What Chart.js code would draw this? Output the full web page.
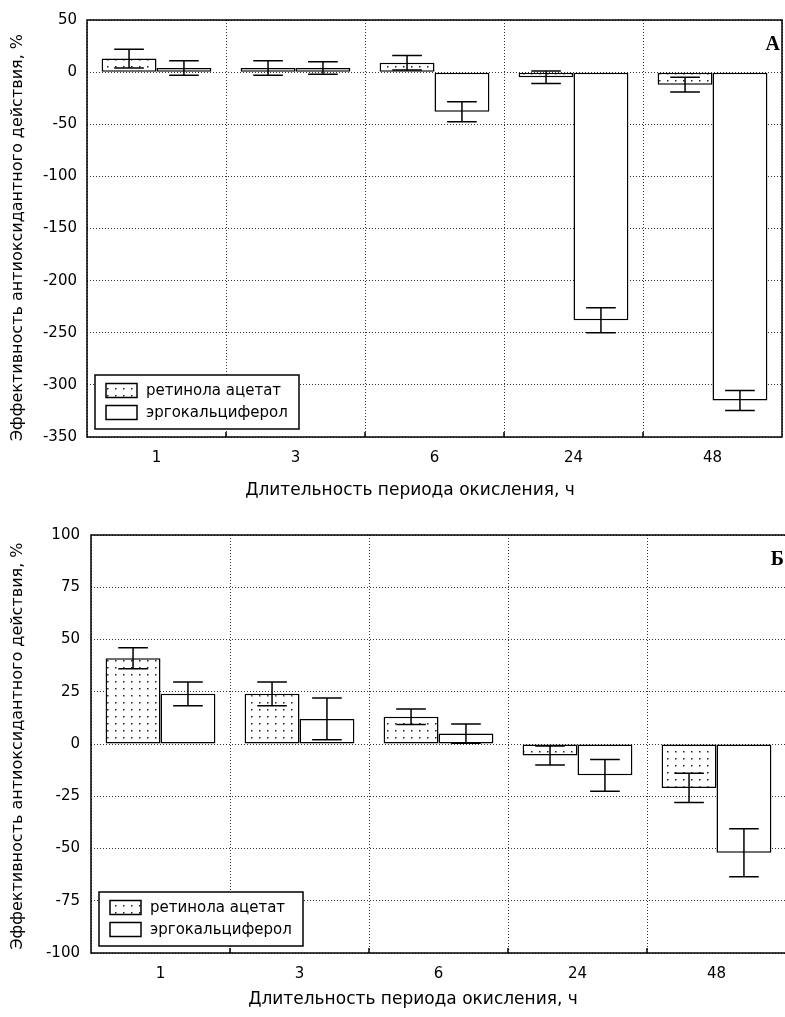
<!DOCTYPE html>
<html>
<head>
<meta charset="utf-8">
<script src="https://cdn.jsdelivr.net/npm/chart.js@4.4.0/dist/chart.umd.min.js"></script>
<style>
  html, body { margin: 0; padding: 0; background: #fff; overflow: hidden; }
  #wrapA { position: absolute; left: 0; top: 0; width: 785px; height: 510px; }
  #wrapB { position: absolute; left: 0; top: 510px; width: 788px; height: 507px; }
</style>
</head>
<body>
<div id="wrapA"><canvas id="chartA" width="785" height="510"></canvas></div>
<div id="wrapB"><canvas id="chartB" width="788" height="507"></canvas></div>
<script>
// категории (часы окисления)
var periods = ["1", "3", "6", "24", "48"];
var seriesNames = ["ретинола ацетат", "эргокальциферол"];

// график А
var retinolA = [13, 4, 9, -5, -12];
var retinolErrA = [9, 7, 7, 6, 7];
var ergoA = [4, 4, -38, -238, -315];
var ergoErrA = [7, 6, 9.5, 12, 9.5];
var ticksA = { min: -350, max: 50, step: 50 };

// график Б
var retinolB = [41, 24, 13, -5.5, -21];
var retinolErrB = [5, 5.7, 3.7, 4.5, 7];
var ergoB = [24, 12, 5, -15, -52];
var ergoErrB = [5.7, 10, 4.6, 7.6, 11.5];
var ticksB = { min: -100, max: 100, step: 25 };

var yTitle = "Эффективность антиоксидантного действия, %";
var xTitle = "Длительность периода окисления, ч";
var fontName = "'DejaVu Sans', sans-serif";

/**
точечная заливка
*/
function dotPattern() {
  var c = document.createElement("canvas");
  c.width = 8;
  c.height = 7;
  var g = c.getContext("2d");
  g.fillStyle = "#fff";
  g.fillRect(0, 0, 8, 7);
  g.fillStyle = "#222";
  g.fillRect(3, 3, 1.5, 1.5);
  return g.createPattern(c, "repeat");
}

var retFill = dotPattern();

// рамка, усы ошибок, подписи осей, легенда и буква
var decorPlugin = {
  id: "decor",
  afterDatasetsDraw: function(chart) {
    var ctx = chart.ctx;
    var yScale = chart.scales.y;
    ctx.save();
    ctx.strokeStyle = "#000";
    ctx.lineWidth = 1.5;
    chart.data.datasets.forEach(function(ds, i) {
      var meta = chart.getDatasetMeta(i);
      meta.data.forEach(function(bar, j) {
        var v = ds.data[j], e = ds.errors[j];
        var y1 = yScale.getPixelForValue(v + e);
        var y2 = yScale.getPixelForValue(v - e);
        var half = bar.width * 0.27;
        ctx.beginPath();
        ctx.moveTo(bar.x, y1); ctx.lineTo(bar.x, y2);
        ctx.moveTo(bar.x - half, y1); ctx.lineTo(bar.x + half, y1);
        ctx.moveTo(bar.x - half, y2); ctx.lineTo(bar.x + half, y2);
        ctx.stroke();
      });
    });
    ctx.restore();
  },
  afterDraw: function(chart) {
    var ctx = chart.ctx;
    var a = chart.chartArea;
    var opts = chart.options.plugins.decor;
    ctx.save();
    // рамка
    ctx.strokeStyle = "#000";
    ctx.lineWidth = 1.5;
    ctx.strokeRect(a.left, a.top, a.right - a.left, a.bottom - a.top);
    // короткие засечки у оси X
    var xs = chart.scales.x;
    for (var k = 1; k < periods.length; k++) {
      var gx = (xs.getPixelForTick(k - 1) + xs.getPixelForTick(k)) / 2;
      ctx.beginPath();
      ctx.moveTo(gx, a.bottom); ctx.lineTo(gx, a.bottom - 5);
      ctx.stroke();
    }
    // подписи осей
    ctx.fillStyle = "#000";
    ctx.textAlign = "center";
    ctx.textBaseline = "middle";
    ctx.font = "17px " + fontName;
    ctx.fillText(xTitle, opts.xTitleX, opts.xTitleY);
    ctx.save();
    ctx.translate(18, (a.top + a.bottom) / 2 + opts.yTitleShift);
    ctx.rotate(-Math.PI / 2);
    ctx.font = "16px " + fontName;
    ctx.fillText(yTitle, 0, 0);
    ctx.restore();
    // буква
    ctx.font = "bold 20px 'Liberation Serif', 'DejaVu Serif', serif";
    ctx.textAlign = "right";
    ctx.fillText(opts.letter, a.right - 2, a.top + opts.letterY);
    // легенда
    var lx = a.left + 8, lw = 204, lh = 54;
    var ly = a.bottom - opts.legendGap - lh;
    ctx.fillStyle = "#fff";
    ctx.fillRect(lx, ly, lw, lh);
    ctx.strokeRect(lx, ly, lw, lh);
    ctx.font = "15px " + fontName;
    ctx.textAlign = "left";
    chart.data.datasets.forEach(function(ds, i) {
      var cy = ly + 15.5 + i * 22;
      ctx.fillStyle = ds.backgroundColor;
      ctx.fillRect(lx + 11, cy - 7, 31, 14);
      ctx.strokeRect(lx + 11, cy - 7, 31, 14);
      ctx.fillStyle = "#000";
      ctx.fillText(ds.label, lx + 51, cy + 1);
    });
    ctx.restore();
  }
};

/**
построить столбчатую диаграмму
*/
function buildChart(canvasId, retVals, retErr, ergoVals, ergoErr, t, box) {
  var config = {
    type: "bar",
    data: {
      labels: periods,
      datasets: [{
        label: seriesNames[0],
        data: retVals,
        errors: retErr,
        backgroundColor: retFill,
        borderColor: "#000",
        borderWidth: 1.5,
        borderSkipped: false
      }, {
        label: seriesNames[1],
        data: ergoVals,
        errors: ergoErr,
        backgroundColor: "#fff",
        borderColor: "#000",
        borderWidth: 1.5,
        borderSkipped: false
      }]
    },
    options: {
      responsive: false,
      animation: false,
      datasets: { bar: { categoryPercentage: 0.79, barPercentage: 1 } },
      layout: { padding: { top: box.top, right: box.right, left: 0, bottom: 0 } },
      plugins: {
        legend: { display: false },
        tooltip: { enabled: false },
        decor: box
      },
      scales: {
        x: {
          grid: { color: "#333", lineWidth: 1, drawTicks: false, offset: true },
          border: { display: false, dash: [1, 2] },
          ticks: { color: "#000", font: { family: fontName, size: 15 }, padding: 12 },
          afterFit: function(s) { s.height = box.xHeight; }
        },
        y: {
          min: t.min,
          max: t.max,
          ticks: { stepSize: t.step, color: "#000", font: { family: fontName, size: 15 }, padding: box.yTickPad },
          grid: { color: "#333", lineWidth: 1, drawTicks: false },
          border: { display: false, dash: [1, 2] },
          afterFit: function(s) { s.width = box.yWidth; }
        }
      }
    },
    plugins: [decorPlugin]
  };
  var ctx = document.getElementById(canvasId).getContext("2d");
  return new Chart(ctx, config);
}

buildChart("chartA", retinolA, retinolErrA, ergoA, ergoErrA, ticksA,
  { top: 20, right: 3, yWidth: 87, xHeight: 73, yTickPad: 10, letter: "А", letterY: 25, legendGap: 8,
    xTitleX: 410, xTitleY: 491, yTitleShift: 9 });
buildChart("chartB", retinolB, retinolErrB, ergoB, ergoErrB, ticksB,
  { top: 25, right: 2, yWidth: 91, xHeight: 64, yTitleShift: 2, yTickPad: 11, letter: "Б", letterY: 25, legendGap: 7,
    xTitleX: 413, xTitleY: 490 });
</script>
</body>
</html>
